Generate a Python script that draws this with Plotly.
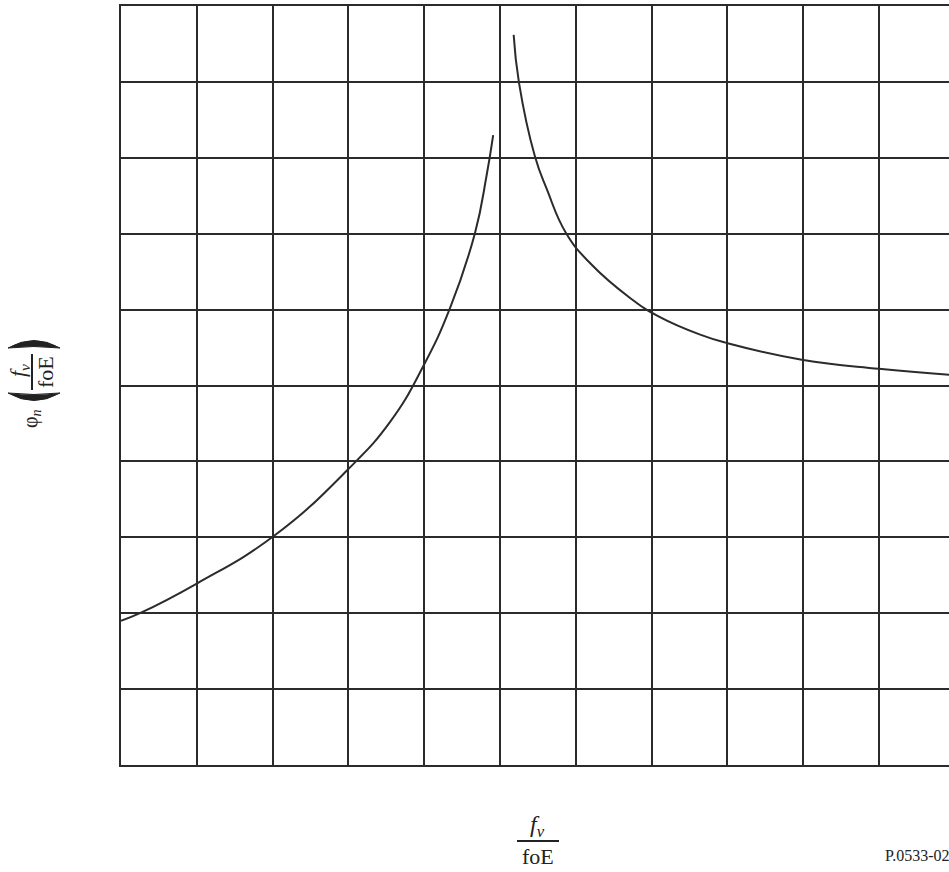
import plotly.graph_objects as go

# Values in grid units (one grid cell = one unit)
left_x = [0.00, 0.25, 1.00, 2.02, 2.99, 3.55, 3.98, 4.34, 4.67, 4.82, 4.91]
left_y = [1.90, 2.00, 2.39, 3.02, 3.89, 4.52, 5.24, 6.02, 7.01, 7.75, 8.30]

right_x = [5.18, 5.25, 5.46, 5.62, 5.87, 6.19, 6.72, 7.11, 7.64, 7.99, 8.98, 10.00, 10.93]
right_y = [9.62, 8.99, 8.02, 7.58, 7.01, 6.61, 6.15, 5.90, 5.67, 5.56, 5.34, 5.22, 5.14]

x_range = [0, 10.923]
y_range = [0, 10]

ink = "#2b2b2b"
serif = "Liberation Serif"

fig = go.Figure()
for xs, ys in ((left_x, left_y), (right_x, right_y)):
    fig.add_trace(go.Scatter(x=xs, y=ys, mode="lines",
                             line=dict(color=ink, width=2, shape="spline", smoothing=1.3),
                             showlegend=False, hoverinfo="skip"))

axis_common = dict(showgrid=True, gridcolor=ink, gridwidth=2, zeroline=False,
                   showticklabels=False, ticks="", showline=True, linecolor=ink,
                   linewidth=2, dtick=1, tick0=0, fixedrange=True)
fig.update_xaxes(range=x_range, mirror=True, **axis_common)
fig.update_yaxes(range=y_range, mirror=False, **axis_common)

W, H = 949, 872
L, R, T, B = 121, 949, 6, 765


def px(xp):
    return (xp - L) / (R - L)


def py(yp):
    return (B - yp) / (B - T)


ann = []


def A(text, x, y, size, angle=0, xanchor="center"):
    ann.append(dict(text=text, x=px(x), y=py(y), xref="paper", yref="paper",
                    showarrow=False, textangle=angle, xanchor=xanchor, yanchor="middle",
                    font=dict(family=serif, size=size, color="#222")))


# y-axis label (rotated)
A("φ<sub><i>n</i></sub>", 31, 419, 20, -90)
A("<i>f<sub>v</sub></i>", 19, 371, 22, -90)
A("foE", 45, 372, 22, -90)

# x-axis label
A("<i>f<sub>v</sub></i>", 537, 826, 24)
A("foE", 538, 857, 22)

# figure id
A("P.0533-02", 883, 855, 16, 0, "left")


def paren(y_end, y_outer, y_inner):
    return (f"M {px(8)},{py(y_end)} Q {px(34)},{py(y_outer)} {px(60)},{py(y_end)} "
            f"Q {px(34)},{py(y_inner)} {px(8)},{py(y_end)} Z")


shapes = [
    dict(type="line", xref="paper", yref="paper",
         x0=px(32), x1=px(32), y0=py(354), y1=py(390),
         line=dict(color="#222", width=2)),
    dict(type="line", xref="paper", yref="paper",
         x0=px(517), x1=px(559), y0=py(841), y1=py(841),
         line=dict(color="#222", width=2)),
    dict(type="path", xref="paper", yref="paper", path=paren(348, 333, 345),
         fillcolor="#222", line=dict(color="#222", width=1)),
    dict(type="path", xref="paper", yref="paper", path=paren(393, 408, 396),
         fillcolor="#222", line=dict(color="#222", width=1)),
]

fig.update_layout(width=W, height=H, margin=dict(l=L, r=W - R, t=T, b=H - B),
                  plot_bgcolor="white", paper_bgcolor="white",
                  annotations=ann, shapes=shapes, showlegend=False)

fig.write_html("out.html", config={"displayModeBar": False},
               post_script="document.body.style.margin='0';")
